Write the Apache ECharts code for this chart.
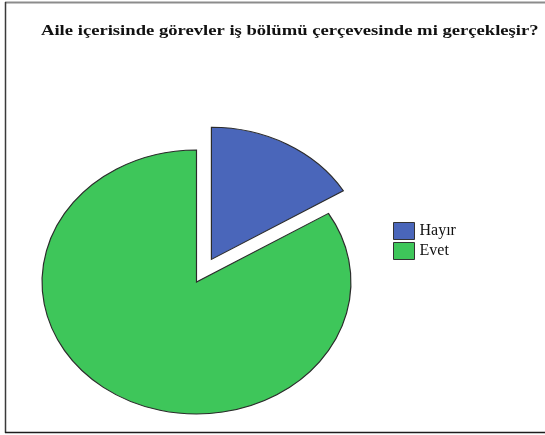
<!DOCTYPE html>
<html>
<head>
<meta charset="utf-8">
<script src="https://cdn.jsdelivr.net/npm/echarts@6/dist/echarts.min.js"></script>
<style>
  html, body { margin: 0; padding: 0; background: #fff; }
  #chart { width: 545px; height: 435px; }
</style>
</head>
<body>
<div id="chart"></div>
<script>
// Question and answer shares
const titleText = 'Aile içerisinde görevler iş bölümü çerçevesinde mi gerçekleşir?';
const categories = ['Hayır', 'Evet'];
const shares = [16.3, 83.7];

const total = shares.reduce((a, b) => a + b, 0);
const starts = [];
shares.reduce((acc, v) => { starts.push(acc); return acc + v; }, 0);

// Pie layout: slices are circular sectors widened along x; the first slice is pulled out.
const PIE = { cx: 196.5, cy: 282, r: 132, stretchX: 1.17, explode: 26 };

function sliceRenderer(idx) {
  return function (params, api) {
    const v = api.value(0);
    const a0 = -Math.PI / 2 + 2 * Math.PI * starts[idx] / total;
    const a1 = a0 + 2 * Math.PI * v / total;
    let ox = 0, oy = 0;
    if (idx === 0) {
      const mid = (a0 + a1) / 2;
      ox = PIE.explode * Math.cos(mid) * PIE.stretchX;
      oy = PIE.explode * Math.sin(mid);
    }
    return {
      type: 'sector',
      x: PIE.cx + ox,
      y: PIE.cy + oy,
      scaleX: PIE.stretchX,
      scaleY: 1,
      shape: { cx: 0, cy: 0, r0: 0, r: PIE.r, startAngle: a0, endAngle: a1, clockwise: true },
      style: { fill: api.visual('color'), stroke: '#2b2b2b', lineWidth: 1, strokeNoScale: true }
    };
  };
}

const sliceColors = ['#4a66ba', '#3ec65a'];

const chart = echarts.init(document.getElementById('chart'), null, { renderer: 'canvas' });
chart.setOption({
  animation: false,
  backgroundColor: '#ffffff',
  graphic: [
    { type: 'line', shape: { x1: 5, y1: 2.5, x2: 545, y2: 2.5 }, style: { stroke: '#8c8c8c', lineWidth: 2 } },
    { type: 'line', shape: { x1: 5.5, y1: 2, x2: 5.5, y2: 433 }, style: { stroke: '#3a3a3a', lineWidth: 1.5 } },
    { type: 'line', shape: { x1: 5, y1: 432.5, x2: 545, y2: 432.5 }, style: { stroke: '#1e1e1e', lineWidth: 1.5 } },
    {
      type: 'text',
      x: 41,
      y: 31,
      scaleX: 1.33,
      style: {
        text: titleText,
        font: 'bold 14px "Liberation Serif"',
        fill: '#111111',
        textAlign: 'left',
        textVerticalAlign: 'middle'
      }
    }
  ],
  legend: {
    data: categories,
    orient: 'vertical',
    left: 388,
    top: 217,
    icon: 'rect',
    itemWidth: 21,
    itemHeight: 17,
    itemGap: 2,
    itemStyle: { borderColor: '#333333', borderWidth: 1 },
    textStyle: { fontFamily: 'Liberation Serif', fontSize: 16, color: '#111111' }
  },
  series: categories.map((name, i) => ({
    type: 'custom',
    name: name,
    coordinateSystem: 'none',
    data: [shares[i]],
    itemStyle: { color: sliceColors[i] },
    renderItem: sliceRenderer(i)
  }))
});
</script>
</body>
</html>
